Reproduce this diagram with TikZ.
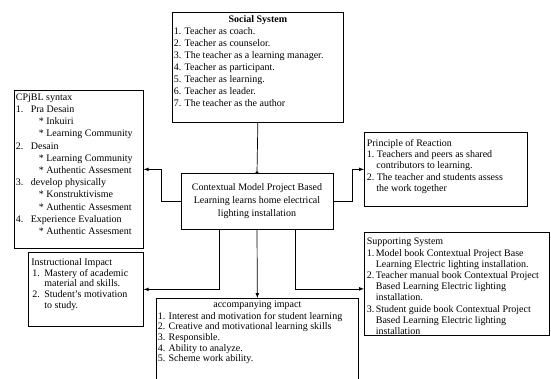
\documentclass[tikz,border=0pt]{standalone}
\usepackage{fontspec}
\setmainfont{Liberation Serif}
\usepackage{tikz}

% box text: width, height, first baseline, content
\newcommand{\boxtext}[4]{\parbox[t][#2][t]{#1}{\fontsize{10}{12}\selectfont\leftskip=1.5pt\rule{0pt}{#3}#4}}

\begin{document}
\begin{tikzpicture}[x=1pt,y=-1pt]
				\tikzstyle{block}=[draw, line width=0.7pt, inner sep=0pt, anchor=north west]
				\tikzstyle{model}=[draw, line width=0.7pt, minimum width=152pt, minimum height=56pt, align=center, font=\fontsize{10}{13}\selectfont]
				\tikzset{edge/.style = {->,> = latex, line width=0.7pt}}
				\useasboundingbox (0,0) rectangle (551,378);
				\clip (0,0) rectangle (551,378);
				
				% model in the middle
				\node[model](model) at (257,201) {Contextual Model Project Based\\Learning learns home electrical\\lighting installation};
				
				% social system
				\node[block](social) at (172,12) {\boxtext{171pt}{110pt}{10pt}{{\centering\textbf{Social System}\par}
					1. Teacher as coach.\\
					2. Teacher as counselor.\\
					3. The teacher as a learning manager.\\
					4. Teacher as participant.\\
					5. Teacher as learning.\\
					6. Teacher as leader.\\
					7. The teacher as the author}};
				
				% syntax
				\node[block](syntax) at (14,90) {\boxtext{129pt}{158pt}{10pt}{\baselineskip=12.2pt CPjBL syntax\\
					\makebox[15pt][l]{1.}Pra Desain\\
					\hspace*{23pt}* Inkuiri\\
					\hspace*{23pt}* Learning Community\\
					\makebox[15pt][l]{2.}Desain\\
					\hspace*{23pt}* Learning Community\\
					\hspace*{23pt}* Authentic Assesment\\
					\makebox[15pt][l]{3.}develop physically\\
					\hspace*{23pt}* Konstruktivisme\\
					\hspace*{23pt}* Authentic Assesment\\
					\makebox[15pt][l]{4.}Experience Evaluation\\
					\hspace*{23pt}* Authentic Assesment}};
				
				% principle of reaction
				\node[block](reaction) at (364,132) {\boxtext{163pt}{74pt}{14pt}{\baselineskip=11.3pt\leftskip=2.5pt Principle of Reaction\\
					\makebox[10pt][l]{1.}Teachers and peers as shared\\
					\hspace*{9.5pt}contributors to learning.\\
					\makebox[10pt][l]{2.}The teacher and students assess\\
					\hspace*{9.5pt}the work together}};
				
				% supporting system
				\node[block](support) at (364,232) {\boxtext{185pt}{103pt}{12.5pt}{\baselineskip=11.2pt\leftskip=2.5pt Supporting System\\
					\makebox[9pt][l]{1.}Model book Contextual Project Base\\
					\hspace*{9pt}Learning Electric lighting installation.\\
					\makebox[9pt][l]{2.}Teacher manual book Contextual Project\\
					\hspace*{9pt}Based Learning Electric lighting\\
					\hspace*{9pt}installation.\\
					\makebox[9pt][l]{3.}Student guide book Contextual Project\\
					\hspace*{9pt}Based Learning Electric lighting\\
					\hspace*{9pt}installation}};
				
				% instructional impact
				\node[block](instr) at (28,252) {\boxtext{115pt}{74pt}{13pt}{\baselineskip=10.8pt\leftskip=3pt Instructional Impact\\
					\hspace*{1pt}\makebox[12pt][l]{1.}Mastery of academic\\
					\hspace*{13pt}material and skills.\\
					\hspace*{1pt}\makebox[12pt][l]{2.}Student's motivation\\
					\hspace*{13pt}to study.}};
				
				% accompanying impact
				\node[block](accomp) at (156,298) {\boxtext{202pt}{100pt}{9pt}{{\centering accompanying impact\par}
					\vspace{1.4pt}\baselineskip=10.6pt
					1. Interest and motivation for student learning\\
					2. Creative and motivational learning skills\\
					3. Responsible.\\
					4. Ability to analyze.\\
					5. Scheme work ability.}};
				
				% connectors
				\draw[line width=0.7pt](social.south) -- (model.north);
				\fill (model.north) circle (1.6pt);
				\draw[edge](model.west) -- ++(-19,0) |- (syntax.east);
				\draw[edge](model.east) -- ++(19,0) |- (reaction.west);
				\draw[edge]([xshift=-38pt]model.south) |- (instr.east);
				\draw[edge](model.south) -- (accomp.north);
				\draw[edge]([xshift=38pt]model.south) |- ([yshift=-5pt]support.west);
			\end{tikzpicture}
\end{document}
